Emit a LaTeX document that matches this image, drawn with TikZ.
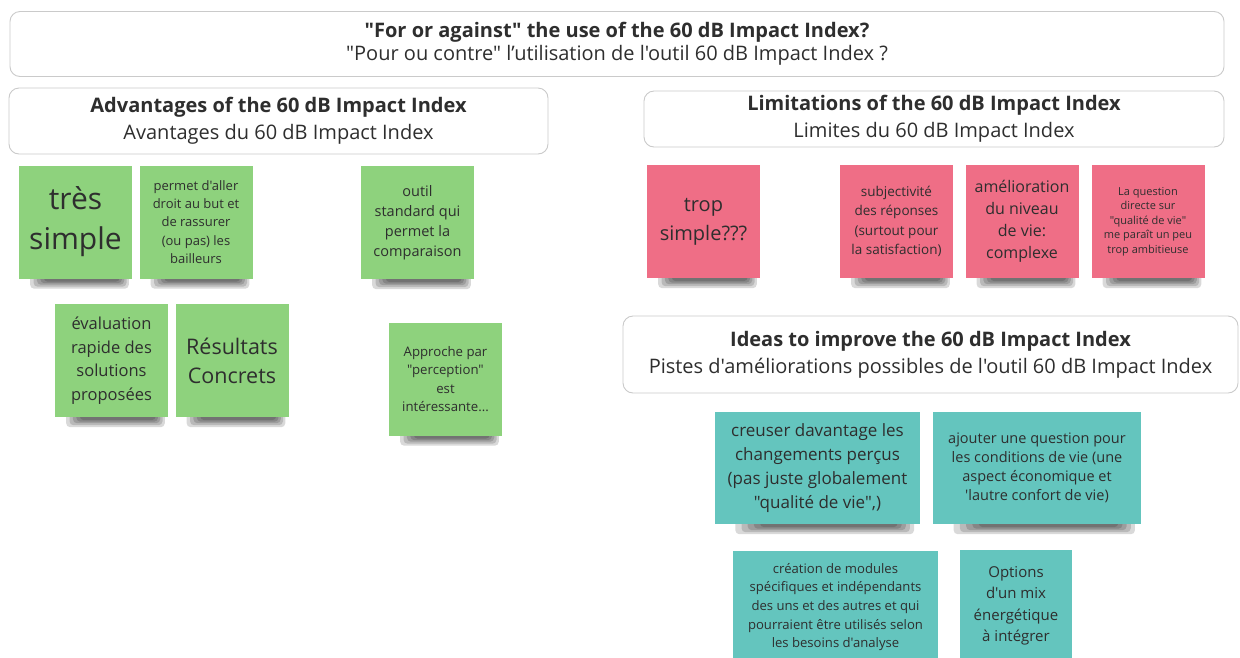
\documentclass[tikz,border=0pt]{standalone}
\usepackage{fontspec}
\setmainfont{Open Sans}[Ligatures=TeXOff]
\usetikzlibrary{positioning,calc,backgrounds}
\definecolor{notegreen}{HTML}{8ED27D}
\definecolor{notepink}{HTML}{EF6E86}
\definecolor{noteteal}{HTML}{64C5BE}
\definecolor{ink}{HTML}{2E2E2E}
\definecolor{rim}{HTML}{CACACA}
\newcommand{\fsz}[2]{\fontsize{#1}{#2}\selectfont}

\begin{document}
\begin{tikzpicture}[x=1pt,y=-1pt,
head/.style={draw=rim, line width=0.9pt, fill=white, rounded corners=10pt,
  align=center, text=ink, inner sep=0pt, font=\fsz{20}{27}},
note/.style={minimum width=113pt, minimum height=113pt, inner sep=0pt,
  align=center, text=ink},
pro/.style={note, fill=notegreen},
con/.style={note, fill=notepink},
idea/.style={note, fill=noteteal, minimum height=112pt},
shade/.style={fill=black, opacity=.15, rounded corners=4pt}]
\useasboundingbox (0,0) rectangle (1240,657);
\clip (0,0) rectangle (1240,657);

% headings
\node[head, minimum width=1214pt, minimum height=65pt, font=\fsz{20}{23}] (title) at (617,44)
  {{\bfseries "For or against" the use of the 60 dB Impact Index?}\\"Pour ou contre" l’utilisation de l'outil 60 dB Impact Index ?};
\node[head, minimum width=539pt, minimum height=66pt] (adv) at (278.5,121)
  {{\bfseries Advantages of the 60 dB Impact Index}\\Avantages du 60 dB Impact Index};
\node[head, minimum width=580pt, minimum height=56pt] (lim) at (934,119)
  {{\bfseries Limitations of the 60 dB Impact Index}\\Limites du 60 dB Impact Index};
\node[head, minimum width=615pt, minimum height=77pt] (ideas) at (930.5,354.5)
  {{\bfseries Ideas to improve the 60 dB Impact Index}\\Pistes d'améliorations possibles de l'outil 60 dB Impact Index};

% advantages
\node[pro, font=\fsz{30}{40}] (g1) at (75.5,222) {très\\simple};
\node[pro, font=\fsz{13}{18.2}] (g2) at (196,222) {permet d'aller\\droit au but et\\de rassurer\\(ou pas) les\\bailleurs};
\node[pro, font=\fsz{14.5}{20}] (g3) at (417.5,222.5) {outil\\standard qui\\permet la\\comparaison};
\node[pro, font=\fsz{16.5}{23.5}] (g4) at (111.5,360.5) {évaluation\\rapide des\\solutions\\proposées};
\node[pro, font=\fsz{21.5}{29}] (g5) at (232,360.5) {Résultats\\Concrets};
\node[pro, font=\fsz{13.2}{18.3}] (g6) at (445.5,379) {Approche par\\"perception"\\est\\intéressante...};

% limitations
\node[con, font=\fsz{20}{29}] (p1) at (703.5,221.5) {trop\\simple???};
\node[con, font=\fsz{13.5}{19.5}] (p2) at (896.5,221.5) {subjectivité\\des réponses\\(surtout pour\\la satisfaction)};
\node[con, font=\fsz{16}{22}] (p3) at (1022,221.5) {amélioration\\du niveau\\de vie:\\complexe};
\node[con, font=\fsz{11}{14.6}] (p4) at (1148,221.5) {La question\\directe sur\\"qualité de vie"\\me paraît un peu\\trop ambitieuse};

% ideas
\node[idea, minimum width=205pt, font=\fsz{17}{24}] (t1) at (817.5,468) {creuser davantage les\\changements perçus\\(pas juste globalement\\"qualité de vie",)};
\node[idea, minimum width=208pt, font=\fsz{14.5}{19}] (t2) at (1037,468) {ajouter une question pour\\les conditions de vie (une\\aspect économique et\\'lautre confort de vie)};
\node[idea, minimum width=205pt, font=\fsz{13.1}{18.7}] (t3) at (835.5,607) {création de modules\\spécifiques et indépendants\\des uns et des autres et qui\\pourraient être utilisés selon\\les besoins d'analyse};
\node[idea, minimum width=112pt, font=\fsz{15}{21.5}] (t4) at (1016,606) {Options\\d'un mix\\énergétique\\à intégrer};

% soft shadow under each note
\begin{scope}[on background layer]
\foreach \n in {g1,g2,g3,g4,g5,g6,p1,p2,p3,p4,t1,t2,t3,t4}
  \foreach \l/\r/\d in {.10/.97/10,.13/.95/8,.16/.93/6,.19/.91/4.5,.22/.89/3}
    \fill[shade] ($(\n.south west)!\l!(\n.south east)+(0,-20)$) rectangle ($(\n.south west)!\r!(\n.south east)+(0,\d)$);
\end{scope}
\end{tikzpicture}
\end{document}
